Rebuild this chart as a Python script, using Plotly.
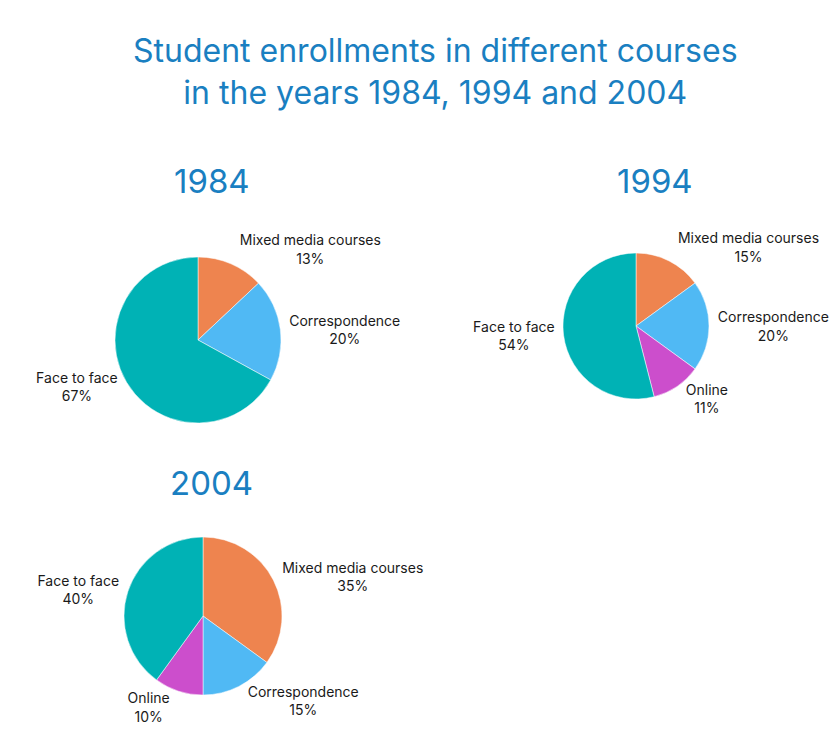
import plotly.graph_objects as go

labels_1984 = ["Mixed media courses", "Correspondence", "Face to face"]
values_1984 = [13, 20, 67]
colors_1984 = ["#EE844F", "#50B9F4", "#00B2B5"]

labels_1994 = ["Mixed media courses", "Correspondence", "Online", "Face to face"]
values_1994 = [15, 20, 11, 54]
colors_1994 = ["#EE844F", "#50B9F4", "#CC4ECC", "#00B2B5"]

labels_2004 = ["Mixed media courses", "Correspondence", "Online", "Face to face"]
values_2004 = [35, 15, 10, 40]
colors_2004 = ["#EE844F", "#50B9F4", "#CC4ECC", "#00B2B5"]

years = ["1984", "1994", "2004"]
title_text = "Student enrollments in different courses<br>in the years 1984, 1994 and 2004"

W, H = 834, 751
FONT = "Inter, Open Sans, sans-serif"
TITLE_COLOR = "#1A7FC1"


def dom(cx, cy, r):
    return dict(x=[(cx - r) / W, (cx + r) / W], y=[1 - (cy + r) / H, 1 - (cy - r) / H])


fig = go.Figure()
specs = [
    (labels_1984, values_1984, colors_1984, dom(198, 340, 83)),
    (labels_1994, values_1994, colors_1994, dom(636, 326, 73)),
    (labels_2004, values_2004, colors_2004, dom(203, 616, 79)),
]
for labs, vals, cols, d in specs:
    fig.add_trace(go.Pie(
        labels=labs, values=vals, sort=False, direction="clockwise", rotation=0,
        marker=dict(colors=cols, line=dict(color="white", width=0.5)),
        textposition="outside", texttemplate="%{label}<br>%{value}%",
        textfont=dict(family=FONT, size=14, color="#1a1a1a"),
        domain=d, showlegend=False, hoverinfo="label+value",
    ))

annotations = [
    dict(text=title_text, x=435 / W, y=1 - 71 / H, xref="paper", yref="paper",
         showarrow=False, font=dict(family=FONT, size=32, color=TITLE_COLOR),
         xanchor="center", yanchor="middle"),
]
for yr, (px, py) in zip(years, [(212, 181), (655, 181), (212, 483)]):
    annotations.append(dict(text=yr, x=px / W, y=1 - py / H, xref="paper", yref="paper",
                            showarrow=False, font=dict(family=FONT, size=33, color=TITLE_COLOR),
                            xanchor="center", yanchor="middle"))

fig.update_layout(
    width=W, height=H, margin=dict(l=0, r=0, t=0, b=0),
    paper_bgcolor="white", plot_bgcolor="white",
    annotations=annotations,
)
fig.write_html("out.html")
